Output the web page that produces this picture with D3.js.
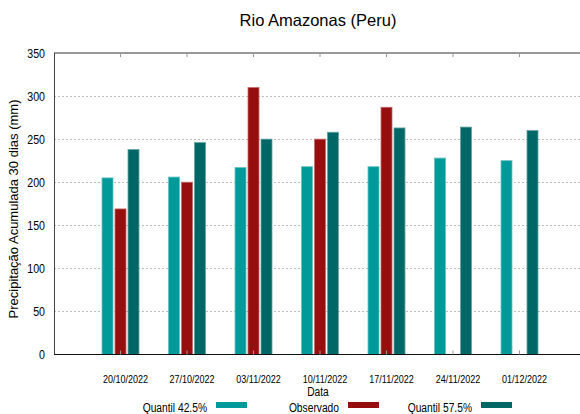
<!DOCTYPE html>
<html>
<head>
<meta charset="utf-8">
<script src="https://cdn.jsdelivr.net/npm/d3@7"></script>
<style>
  body { margin: 0; background: #fff; }
  text { font-family: "Liberation Sans", Arial, sans-serif; fill: #000; }
</style>
</head>
<body>
<div id="chart"></div>
<script>
// Data
const dates = ['20/10/2022', '27/10/2022', '03/11/2022', '10/11/2022', '17/11/2022', '24/11/2022', '01/12/2022'];
const q425 = [205, 206, 217, 218, 218, 228, 225];
const observado = [169, 200, 310, 250, 287, null, null];
const q575 = [238, 246, 250, 258, 263, 264, 260];
const yTicks = [0, 50, 100, 150, 200, 250, 300, 350];

const series = [
  { name: 'Quantil 42.5%', values: q425, color: '#009a9a', edge: '#66c2c2' },
  { name: 'Observado', values: observado, color: '#960e0e', edge: '#c46c6c' },
  { name: 'Quantil 57.5%', values: q575, color: '#006766', edge: '#66a4a3' }
];

const width = 580, height = 414;
const plotLeft = 54, plotTop = 53, plotBottom = 354.5, plotRight = 586;
const squeeze = 0.82; // the reference uses a condensed face

const svg = d3.select('#chart').append('svg')
  .attr('width', width)
  .attr('height', height);

const x = d3.scaleLinear().domain([0, 8]).range([plotLeft, plotRight]);
const y = d3.scaleLinear().domain([0, 350]).range([plotBottom, plotTop]);

// condensed text placed at (px, py)
function narrowText(g, px, py, str, size, anchor) {
  return g.append('text')
    .attr('transform', `translate(${px},${py}) scale(${squeeze},1)`)
    .attr('text-anchor', anchor)
    .attr('font-size', size)
    .text(str);
}

// dotted grid
svg.append('g')
  .selectAll('line')
  .data(yTicks.filter(d => d > 0 && d < 350))
  .join('line')
  .attr('x1', plotLeft).attr('x2', width)
  .attr('y1', d => Math.round(y(d)) + 0.5).attr('y2', d => Math.round(y(d)) + 0.5)
  .attr('stroke', '#bdbdbd')
  .attr('stroke-width', 1)
  .attr('stroke-dasharray', '2,2');

// bars
const barW = 11, step = 13;
series.forEach((s, si) => {
  svg.append('g')
    .selectAll('rect')
    .data(s.values.map((v, i) => ({ v, i })).filter(d => d.v != null))
    .join('rect')
    .attr('x', d => x(d.i + 1) + (si - 1) * step - barW / 2)
    .attr('y', d => y(d.v))
    .attr('width', barW)
    .attr('height', d => plotBottom - y(d.v))
    .attr('fill', s.color)
    .attr('stroke', s.edge)
    .attr('stroke-width', 0.8);
});

// frame
svg.append('line').attr('x1', plotLeft).attr('x2', width).attr('y1', plotTop).attr('y2', plotTop)
  .attr('stroke', '#333').attr('stroke-width', 1);
svg.append('line').attr('x1', plotLeft).attr('x2', width).attr('y1', plotBottom).attr('y2', plotBottom)
  .attr('stroke', '#111').attr('stroke-width', 1.2);
svg.append('line').attr('x1', plotLeft + 0.5).attr('x2', plotLeft + 0.5).attr('y1', plotTop).attr('y2', plotBottom)
  .attr('stroke', '#444').attr('stroke-width', 1);

// inward ticks at group centres
const tickG = svg.append('g');
dates.forEach((d, i) => {
  tickG.append('line').attr('x1', x(i + 1)).attr('x2', x(i + 1))
    .attr('y1', plotBottom).attr('y2', plotBottom - 4).attr('stroke', '#999');
  tickG.append('line').attr('x1', x(i + 1)).attr('x2', x(i + 1))
    .attr('y1', plotTop).attr('y2', plotTop + 4).attr('stroke', '#999');
});

// y tick labels
const yLab = svg.append('g');
yTicks.forEach(d => narrowText(yLab, 45, y(d) + 4.5, d, 13, 'end'));

// x tick labels
const xLab = svg.append('g');
dates.forEach((d, i) => narrowText(xLab, x(i + 1) + 5, 383, d, 11, 'middle'));

// title and axis titles
svg.append('text')
  .attr('x', 318).attr('y', 26)
  .attr('text-anchor', 'middle')
  .attr('font-size', 16.5)
  .text('Rio Amazonas (Peru)');

narrowText(svg, 318, 396, 'Data', 12.5, 'middle');

svg.append('text')
  .attr('transform', 'translate(18,209) rotate(-90)')
  .attr('text-anchor', 'middle')
  .attr('font-size', 13)
  .text('Precipitação Acumulada 30 dias (mm)');

// legend
const legendX = [247, 379, 512];
series.forEach((s, i) => {
  svg.append('rect')
    .attr('x', legendX[i] - 31).attr('y', 402)
    .attr('width', 31).attr('height', 6)
    .attr('fill', s.color);
  narrowText(svg, legendX[i] - 40, 411.5, s.name, 12.5, 'end');
});
</script>
</body>
</html>
